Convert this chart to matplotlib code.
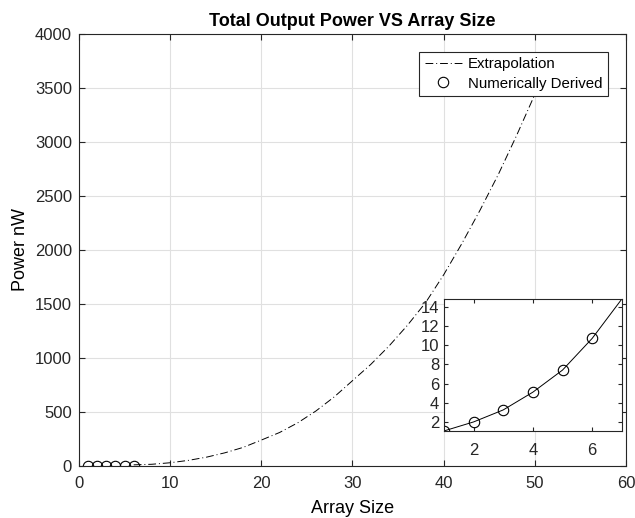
import matplotlib.pyplot as plt

plt.rcParams['font.family'] = ['Liberation Sans', 'DejaVu Sans']

# numerically derived points
array_size = [1, 2, 3, 4, 5, 6]
power_nw = [1.06, 2.0, 3.25, 5.1, 7.4, 10.7]

# extrapolated curve
ext_x = [6, 8, 10, 12, 14, 16, 18, 20, 22, 24, 26, 28, 30, 32, 34, 36, 38, 40, 42, 44, 46, 48, 50]
ext_y = [10.7, 16, 30, 52, 82, 122, 172, 240, 310, 400, 510, 640, 790, 940, 1110, 1300, 1510,
         1770, 2060, 2370, 2700, 3060, 3440]

# inset curve
zoom_x = [1, 2, 3, 4, 5, 6, 7]
zoom_y = [1.06, 2.0, 3.25, 5.1, 7.4, 10.7, 14.8]

axcol = '#262626'
fig = plt.figure(figsize=(6.35, 5.18), dpi=100)
ax = fig.add_axes([0.1244, 0.1004, 0.8614, 0.834])

ax.plot(ext_x, ext_y, color='black', lw=0.7, linestyle=(0, (8, 3, 1, 3)), label='Extrapolation')
ax.plot(array_size, [0] * len(array_size), 'o', mfc='none', mec='black', ms=7.5, mew=0.8,
        label='Numerically Derived')

ax.set_xlim(0, 60)
ax.set_ylim(0, 4000)
ax.set_xticks(range(0, 61, 10))
ax.set_yticks(range(0, 4001, 500))
ax.grid(True, color='#e0e0e0', lw=0.8)
ax.set_axisbelow(True)
ax.tick_params(direction='in', length=4, colors=axcol, labelsize=12, top=True, right=True)
ax.tick_params(axis='x', pad=7)
ax.tick_params(axis='y', pad=5)
for s in ax.spines.values():
    s.set_color(axcol)
    s.set_linewidth(0.8)
ax.set_title('Total Output Power VS Array Size', fontsize=13, fontweight='bold', pad=6)
ax.set_xlabel('Array Size', fontsize=13, labelpad=7)
ax.set_ylabel('Power nW', fontsize=13, labelpad=4)

leg = ax.legend(loc='upper right', bbox_to_anchor=(0.967, 0.958), borderaxespad=0,
                fontsize=10.8, fancybox=False, framealpha=1, edgecolor=axcol,
                handlelength=2.5, handletextpad=0.4, borderpad=0.35, labelspacing=0.35)
leg.get_frame().set_linewidth(0.8)

ins = fig.add_axes([0.699, 0.168, 0.2803, 0.2548])
ins.plot(zoom_x, zoom_y, color='black', lw=0.7)
ins.plot(array_size, power_nw, 'o', mfc='none', mec='black', ms=7.5, mew=0.8)
ins.set_xlim(1, 7)
ins.set_ylim(1.06, 14.8)
ins.set_xticks([2, 4, 6])
ins.set_yticks(range(2, 15, 2))
ins.tick_params(direction='in', length=3, colors=axcol, labelsize=12, top=True, right=True)
ins.tick_params(axis='x', pad=9)
for s in ins.spines.values():
    s.set_color(axcol)
    s.set_linewidth(0.8)

fig.savefig('out.png', dpi=100)
